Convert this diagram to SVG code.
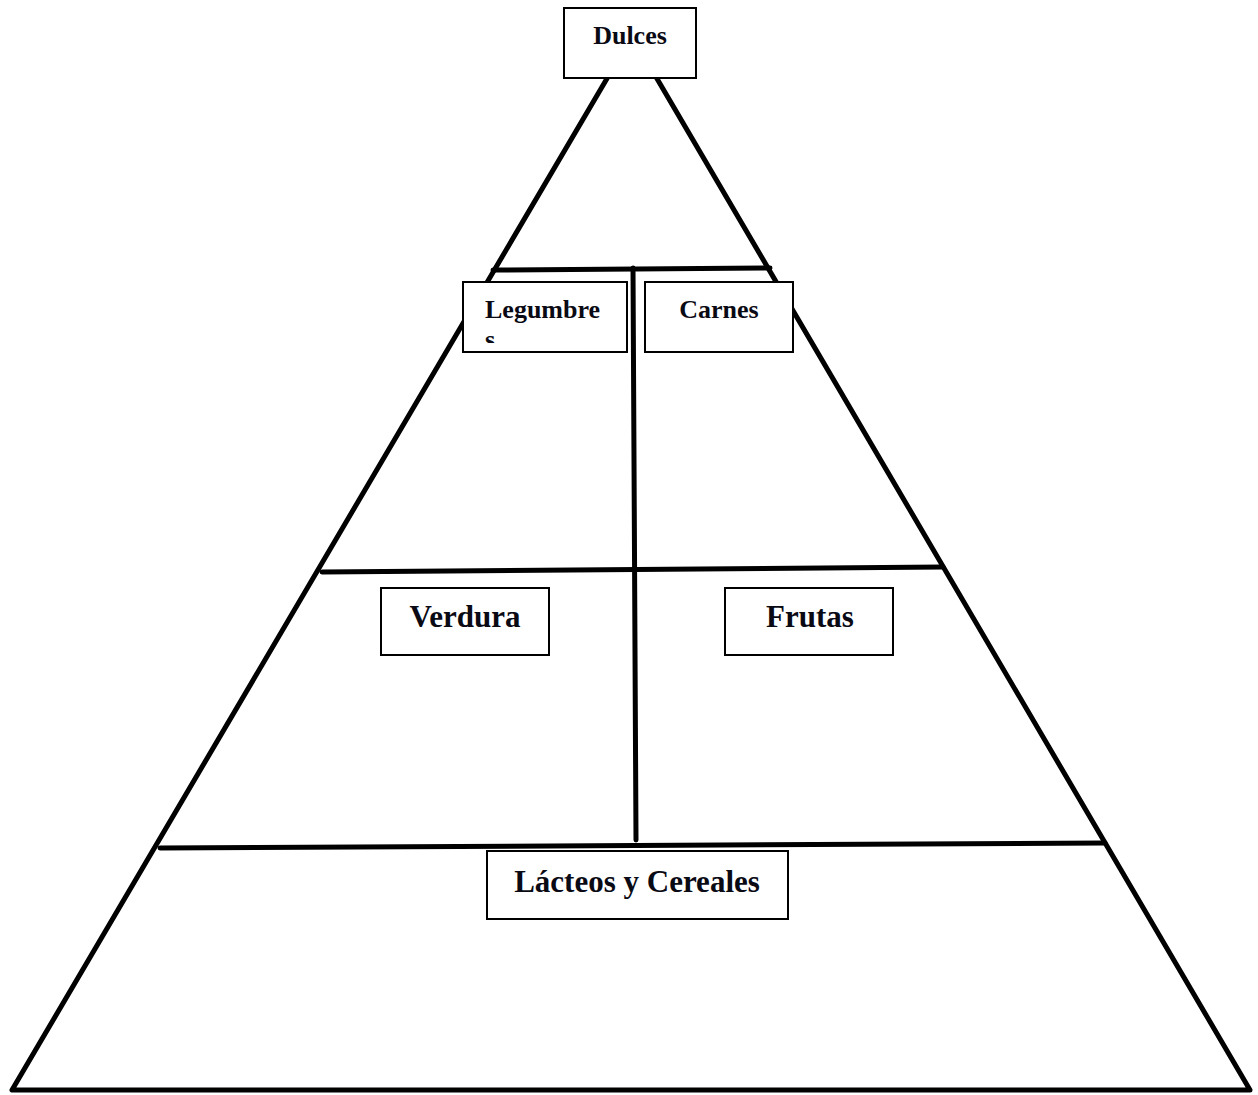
<svg xmlns="http://www.w3.org/2000/svg" width="1258" height="1095" viewBox="0 0 1258 1095">
<style>
.ln{stroke:#000;stroke-width:5;fill:none;stroke-linecap:round;stroke-linejoin:round}
.bx{fill:#fff;stroke:#000;stroke-width:2}
.t{font-family:"Liberation Serif","Times New Roman",serif;font-weight:bold;fill:#0a0a14}
.s{font-size:26px}
.l{font-size:31px}
</style>
<defs>
<clipPath id="clipLeg"><rect x="464" y="283" width="162" height="60"/></clipPath>
</defs>
<rect width="1258" height="1095" fill="#fff"/>
<g id="connectors">
<path class="ln" d="M632,36 L12,1090 L1250,1090 Z"/>
<line class="ln" x1="493" y1="270" x2="770" y2="268"/>
<line class="ln" x1="633" y1="268" x2="636" y2="840"/>
<line class="ln" x1="322" y1="572" x2="943" y2="567"/>
<line class="ln" x1="160" y1="848" x2="1105" y2="843"/>
</g>
<g id="dulces">
<rect class="bx" x="564" y="8" width="132" height="70"/>
<text class="t s" x="630" y="44" text-anchor="middle">Dulces</text>
</g>
<g id="legumbres">
<rect class="bx" x="463" y="282" width="164" height="70"/>
<g clip-path="url(#clipLeg)">
<text class="t s" x="485" y="318">Legumbre</text>
<text class="t s" x="485" y="348">s</text>
</g>
</g>
<g id="carnes">
<rect class="bx" x="645" y="282" width="148" height="70"/>
<text class="t s" x="719" y="318" text-anchor="middle">Carnes</text>
</g>
<g id="verdura">
<rect class="bx" x="381" y="588" width="168" height="67"/>
<text class="t l" x="465" y="627" text-anchor="middle">Verdura</text>
</g>
<g id="frutas">
<rect class="bx" x="725" y="588" width="168" height="67"/>
<text class="t l" x="810" y="627" text-anchor="middle">Frutas</text>
</g>
<g id="lacteos">
<rect class="bx" x="487" y="851" width="301" height="68"/>
<text class="t l" x="637" y="892" text-anchor="middle">Lácteos y Cereales</text>
</g>
</svg>
